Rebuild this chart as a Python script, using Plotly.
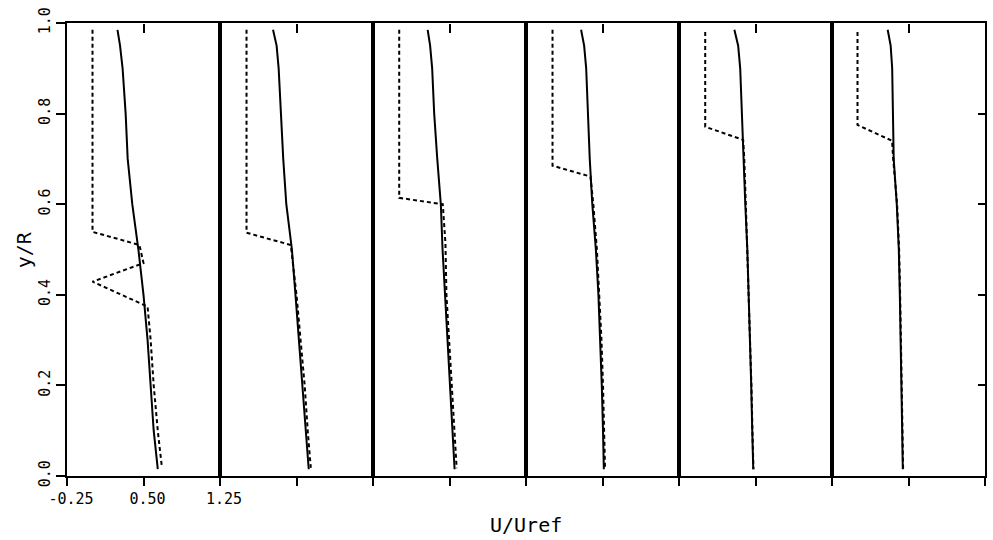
import plotly.graph_objects as go
from plotly.subplots import make_subplots

# ---------------- data ----------------
y_solid = [0.985, 0.95, 0.9, 0.8, 0.7, 0.6, 0.5, 0.4, 0.3, 0.2, 0.1, 0.015]

u_solid_1 = [0.245, 0.27, 0.295, 0.325, 0.345, 0.39, 0.45, 0.50, 0.54, 0.57, 0.60, 0.64]
u_solid_2 = [0.27, 0.305, 0.325, 0.345, 0.37, 0.40, 0.455, 0.49, 0.525, 0.56, 0.59, 0.62]
u_solid_3 = [0.286, 0.31, 0.33, 0.35, 0.38, 0.415, 0.432, 0.455, 0.483, 0.505, 0.53, 0.55]
u_solid_4 = [0.29, 0.32, 0.34, 0.355, 0.375, 0.40, 0.435, 0.46, 0.48, 0.493, 0.505, 0.513]
u_solid_5 = [0.293, 0.33, 0.35, 0.365, 0.385, 0.40, 0.42, 0.435, 0.447, 0.458, 0.468, 0.478]
u_solid_6 = [0.296, 0.325, 0.34, 0.345, 0.355, 0.385, 0.405, 0.415, 0.425, 0.432, 0.438, 0.444]

y_dash_1 = [0.985, 0.539, 0.51, 0.47, 0.429, 0.374, 0.3, 0.2, 0.1, 0.02]
u_dash_1 = [0.0, 0.0, 0.46, 0.50, 0.0, 0.54, 0.57, 0.60, 0.64, 0.68]
y_dash_2 = [0.985, 0.537, 0.51, 0.4, 0.3, 0.2, 0.1, 0.018]
u_dash_2 = [0.01, 0.01, 0.444, 0.50, 0.54, 0.58, 0.61, 0.64]
y_dash_3 = [0.985, 0.614, 0.60, 0.514, 0.4, 0.3, 0.2, 0.1, 0.017]
u_dash_3 = [0.007, 0.007, 0.434, 0.46, 0.47, 0.495, 0.52, 0.545, 0.57]
y_dash_4 = [0.985, 0.685, 0.661, 0.6, 0.5, 0.4, 0.3, 0.2, 0.1, 0.015]
u_dash_4 = [0.01, 0.01, 0.382, 0.41, 0.445, 0.47, 0.49, 0.505, 0.515, 0.525]
y_dash_5 = [0.98, 0.771, 0.742, 0.7, 0.6, 0.5, 0.4, 0.3, 0.2, 0.1, 0.015]
u_dash_5 = [0.007, 0.007, 0.379, 0.39, 0.405, 0.42, 0.437, 0.45, 0.46, 0.47, 0.48]
y_dash_6 = [0.98, 0.775, 0.74, 0.7, 0.6, 0.5, 0.4, 0.3, 0.2, 0.1, 0.015]
u_dash_6 = [0.0, 0.0, 0.339, 0.35, 0.388, 0.408, 0.418, 0.428, 0.435, 0.441, 0.447]

x_tickvals = [-0.25, 0.50, 1.25]
x_ticktext = ["-0.25", "0.50", "1.25"]
y_tickvals = [0.0, 0.2, 0.4, 0.6, 0.8, 1.0]
y_ticktext = ["0.0", "0.2", "0.4", "0.6", "0.8", "1.0"]

solids = [u_solid_1, u_solid_2, u_solid_3, u_solid_4, u_solid_5, u_solid_6]
dashes = [(u_dash_1, y_dash_1), (u_dash_2, y_dash_2), (u_dash_3, y_dash_3),
          (u_dash_4, y_dash_4), (u_dash_5, y_dash_5), (u_dash_6, y_dash_6)]

FONT = "DejaVu Sans Mono"

fig = make_subplots(rows=1, cols=6, shared_yaxes=True, horizontal_spacing=0)

axis_common = dict(showline=True, linecolor="black", linewidth=2, mirror=True,
                   showgrid=False, zeroline=False, tickcolor="black", tickwidth=1.5,
                   automargin=False)

for i in range(6):
    fig.add_trace(go.Scatter(x=solids[i], y=y_solid, mode="lines",
                             line=dict(color="black", width=2),
                             showlegend=False, hoverinfo="skip"),
                  row=1, col=i + 1)

    xa = "xaxis" if i == 0 else f"xaxis{i+1}"
    fig.layout[xa].update(range=[-0.25, 1.25], tickvals=x_tickvals,
                          ticktext=x_ticktext, ticks="outside", ticklen=8,
                          showticklabels=(i == 0), ticklabelshift=4,
                          tickfont=dict(family=FONT, size=15, color="black"),
                          **axis_common)
    ya = "yaxis" if i == 0 else f"yaxis{i+1}"
    fig.layout[ya].update(range=[0, 1], tickvals=y_tickvals, ticktext=y_ticktext,
                          ticks="outside" if i == 0 else "", ticklen=9,
                          showticklabels=(i == 0), tickangle=-90,
                          tickfont=dict(family=FONT, size=15, color="black"),
                          **axis_common)

    # axis sitting on the top edge (same scale), ticks pointing down into the panel
    n = 7 + i
    base = "x" if i == 0 else f"x{i+1}"
    yref = "y" if i == 0 else f"y{i+1}"
    fig.layout[f"xaxis{n}"] = dict(overlaying=base, side="bottom", anchor="free",
                                   position=1.0,
                                   range=[-0.25, 1.25], tickmode="array",
                                   tickvals=[0.5], ticktext=[""],
                                   ticks="outside", ticklen=9, tickwidth=1.5,
                                   tickcolor="black", showticklabels=False,
                                   showline=False, showgrid=False, zeroline=False,
                                   automargin=False)
    du, dy = dashes[i]
    fig.add_trace(go.Scatter(x=du, y=dy, xaxis=f"x{n}", yaxis=yref, mode="lines",
                             line=dict(color="black", width=2, dash="4px,3px"),
                             showlegend=False, hoverinfo="skip"))

# right-hand inward ticks
fig.layout["yaxis6"].update(side="right", ticks="inside", ticklen=7,
                            tickvals=[0.2, 0.4, 0.6, 0.8], showticklabels=False)

fig.add_annotation(text="U/Uref", xref="paper", yref="paper", x=0.5, y=-0.108,
                   xanchor="center", yanchor="middle", showarrow=False,
                   font=dict(family=FONT, size=20, color="black"))
fig.add_annotation(text="y/R", xref="paper", yref="paper", x=-0.047, y=0.5,
                   xanchor="center", yanchor="middle", showarrow=False, textangle=-90,
                   font=dict(family=FONT, size=20, color="black"))

fig.update_layout(width=993, height=540,
                  margin=dict(l=67, r=8, t=23, b=64, autoexpand=False),
                  plot_bgcolor="white", paper_bgcolor="white")

fig.write_html("out.html", config={"displayModeBar": False},
               post_script="document.body.style.margin='0';"
                           "document.body.style.overflow='hidden';")
